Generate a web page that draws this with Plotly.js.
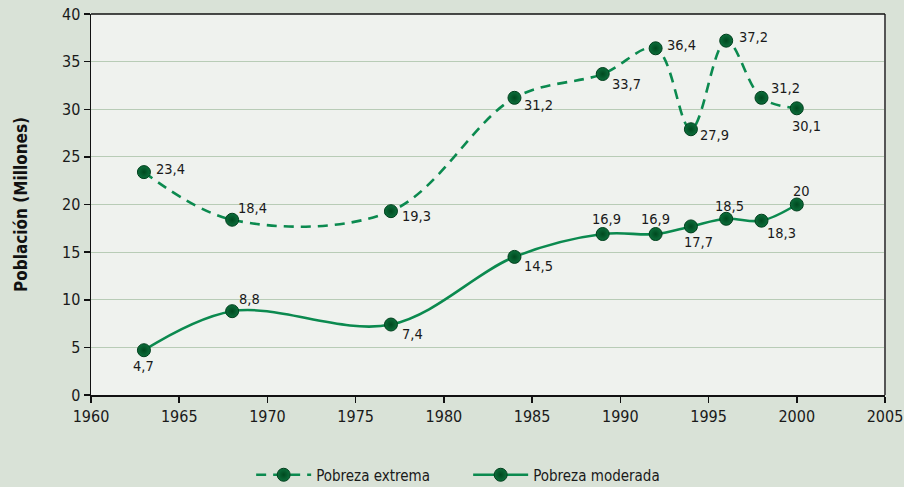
<!DOCTYPE html>
<html>
<head>
<meta charset="utf-8">
<script src="https://cdn.plot.ly/plotly-3.0.1.min.js"></script>
<style>html,body{margin:0;padding:0;background:#d9e2d7;}#chart{width:904px;height:487px;}</style>
</head>
<body>
<div id="chart"></div>
<script>
const years = [1963, 1968, 1977, 1984, 1989, 1992, 1994, 1996, 1998, 2000];
const extrema = [23.4, 18.4, 19.3, 31.2, 33.7, 36.4, 27.9, 37.2, 31.2, 30.1];
const moderada = [4.7, 8.8, 7.4, 14.5, 16.9, 16.9, 17.7, 18.5, 18.3, 20];
const extremaLabels = ["23,4", "18,4", "19,3", "31,2", "33,7", "36,4", "27,9", "37,2", "31,2", "30,1"];
const moderadaLabels = ["4,7", "8,8", "7,4", "14,5", "16,9", "16,9", "17,7", "18,5", "18,3", "20"];
const xTicks = [1960, 1965, 1970, 1975, 1980, 1985, 1990, 1995, 2000, 2005];
const yTicks = [0, 5, 10, 15, 20, 25, 30, 35, 40];

// label placement style: [xanchor, xshift, yshift]
const extremaPlace = [["left",10,3],["left",4,12],["left",9,-5],["left",8,-7],["left",7,-10],["left",9,3],["left",7,-6],["left",11,4],["left",8,10],["center",10,-18]];
const moderadaPlace = [["center",0,-16],["left",5,12],["left",9,-9],["left",8,-9],["center",4,15],["center",0,15],["center",8,-16],["center",3,13],["left",4,-12],["center",5,14]];

const FONT = '"DejaVu Sans Condensed", "Liberation Sans Narrow", sans-serif';
const lineColor = '#0b8a4f';
const marker = {
  size: 13,
  color: '#0c6e3b',
  gradient: {type: 'radial', color: '#00491f'},
  line: {color: '#003f1c', width: 1}
};

const traces = [
  {
    x: years, y: extrema, name: 'Pobreza extrema',
    type: 'scatter', mode: 'lines+markers',
    line: {color: lineColor, width: 2.6, dash: '10px,7px', shape: 'spline', smoothing: 1},
    marker: marker, cliponaxis: false
  },
  {
    x: years, y: moderada, name: 'Pobreza moderada',
    type: 'scatter', mode: 'lines+markers',
    line: {color: lineColor, width: 2.6, shape: 'spline', smoothing: 1},
    marker: marker, cliponaxis: false
  }
];

function labels(xs, ys, txt, place) {
  return xs.map((x, i) => ({
    x: x, y: ys[i], xref: 'x', yref: 'y', text: txt[i], showarrow: false,
    xanchor: place[i][0], yanchor: 'middle', xshift: place[i][1], yshift: place[i][2],
    font: {family: FONT, size: 14.5, color: '#1a1a1a'}
  }));
}

const layout = {
  width: 904, height: 487,
  paper_bgcolor: '#d9e2d7',
  plot_bgcolor: '#eff2ee',
  margin: {l: 91, r: 19, t: 14, b: 92, autoexpand: false},
  font: {family: FONT, size: 16, color: '#1a1a1a'},
  showlegend: true,
  legend: {
    orientation: 'h', x: 0.475, xanchor: 'center', y: -0.21, yanchor: 'middle',
    font: {family: FONT, size: 15, color: '#1a1a1a'},
    bgcolor: 'rgba(0,0,0,0)', itemwidth: 55, entrywidth: 147, entrywidthmode: 'pixels'
  },
  annotations: labels(years, extrema, extremaLabels, extremaPlace).concat(labels(years, moderada, moderadaLabels, moderadaPlace)),
  shapes: [
    {type: 'line', xref: 'paper', yref: 'paper', x0: 1, x1: 1, y0: 0, y1: 1, line: {color: '#555', width: 2}},
    {type: 'line', xref: 'paper', yref: 'paper', x0: 0, x1: 1, y0: 1, y1: 1, line: {color: '#111', width: 1.5}}
  ],
  xaxis: {
    range: [1960, 2005], tickvals: xTicks, ticktext: xTicks.map(String),
    showgrid: false, zeroline: false,
    showline: true, linecolor: '#111', linewidth: 1.5,
    ticks: 'outside', ticklen: 6, tickcolor: '#111', tickwidth: 1.5,
    tickfont: {family: FONT, size: 16, color: '#1a1a1a'}
  },
  yaxis: {
    range: [0, 40], tickvals: yTicks, ticktext: yTicks.map(String),
    showgrid: true, gridcolor: '#b8ccb6', gridwidth: 1.2, zeroline: false,
    showline: true, linecolor: '#111', linewidth: 1.5,
    ticks: 'outside', ticklen: 6, tickcolor: '#111', tickwidth: 1.5,
    tickfont: {family: FONT, size: 16, color: '#1a1a1a'},
    title: {text: '<b>Población (Millones)</b>', font: {family: FONT, size: 17, color: '#111'}, standoff: 30}
  }
};

Plotly.newPlot('chart', traces, layout, {displayModeBar: false, staticPlot: true});
</script>
</body>
</html>
